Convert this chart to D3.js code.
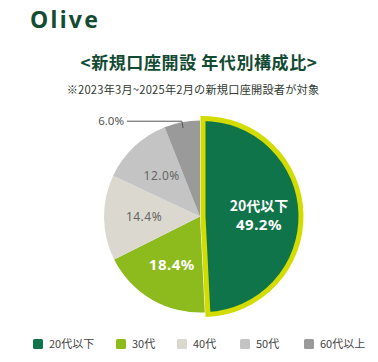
<!DOCTYPE html>
<html>
<head>
<meta charset="utf-8">
<script src="https://cdn.jsdelivr.net/npm/d3@7"></script>
<style>
  body { margin: 0; background: #fff; }
  svg { display: block; }
</style>
</head>
<body>
<div id="chart"></div>
<script>
var w = 378
var h = 362

// data
var categories = ['20代以下', '30代', '40代', '50代', '60代以上']
var shares = [49.2, 18.4, 14.4, 12.0, 6.0]
var colors = ['#10744b', '#8dbb1d', '#dbd8cf', '#c4c4c4', '#9a9a9a']

var jp = '"Noto Sans CJK JP", "Noto Sans", sans-serif'
var num = '"Noto Sans", "Noto Sans CJK JP", sans-serif'

var svg = d3.select('#chart').append('svg')
  .attr('width', w)
  .attr('height', h)

// logo
svg.append('text').text('Olive')
  .attr('x', 30)
  .attr('y', 28)
  .attr('fill', '#144c33')
  .style('font-family', '"Noto Sans", sans-serif')
  .style('font-weight', 700)
  .style('font-size', '23px')
  .style('letter-spacing', '2.3px')

// titles
svg.append('text').text('<新規口座開設 年代別構成比>')
  .attr('x', 199)
  .attr('y', 69)
  .attr('text-anchor', 'middle')
  .attr('fill', '#134a32')
  .style('font-family', jp)
  .style('font-weight', 700)
  .style('font-size', '17px')
  .style('letter-spacing', '0.6px')

svg.append('text').text('※2023年3月~2025年2月の新規口座開設者が対象')
  .attr('x', 193)
  .attr('y', 94)
  .attr('text-anchor', 'middle')
  .attr('fill', '#2f3a33')
  .style('font-family', jp)
  .style('font-size', '11.2px')
  .style('letter-spacing', '0.2px')

// pie
var cx = 200
var cy = 216.5
var r = 96

var pie = d3.pie().sort(null).value(function (d) { return d.v })
var arcs = pie(shares.map(function (v, i) { return { v: v, name: categories[i], color: colors[i] } }))

var arc = d3.arc().innerRadius(0).outerRadius(r)
var arcBig = d3.arc().innerRadius(0).outerRadius(r + 2)
var labelArc = d3.arc().innerRadius(56).outerRadius(56)

var g = svg.append('g').attr('transform', 'translate(' + cx + ',' + cy + ')')

arcs.forEach(function (d, i) {
  if (i === 0) return
  g.append('path')
    .attr('d', arc(d))
    .attr('fill', d.data.color)
})

// highlighted slice, pulled out a little
var first = arcs[0]
var off = 3
g.append('path')
  .attr('d', arcBig(first))
  .attr('transform', 'translate(' + off + ',0)')
  .attr('fill', first.data.color)
  .attr('stroke', '#d3dc00')
  .attr('stroke-width', 5)
  .attr('stroke-linejoin', 'miter')

// labels
var c0 = labelArc.centroid(first)
g.append('text').text(first.data.name)
  .attr('x', c0[0] + off)
  .attr('y', c0[1] - 4)
  .attr('text-anchor', 'middle')
  .attr('fill', '#fff')
  .style('font-family', jp)
  .style('font-weight', 700)
  .style('font-size', '14px')
g.append('text').text(first.data.v.toFixed(1) + '%')
  .attr('x', c0[0] + off)
  .attr('y', c0[1] + 15)
  .attr('text-anchor', 'middle')
  .attr('fill', '#fff')
  .style('font-family', num)
  .style('font-weight', 700)
  .style('font-size', '15px')
  .style('letter-spacing', '0.5px')

var innerStyle = [
  { fill: '#fff', weight: 700, size: 15 },
  { fill: '#666', weight: 400, size: 12 },
  { fill: '#666', weight: 400, size: 12 }
]
arcs.slice(1, 4).forEach(function (d, i) {
  var c = labelArc.centroid(d)
  var s = innerStyle[i]
  g.append('text').text(d.data.v.toFixed(1) + '%')
    .attr('x', c[0])
    .attr('y', c[1])
    .attr('dy', '0.35em')
    .attr('text-anchor', 'middle')
    .attr('fill', s.fill)
    .style('font-family', num)
    .style('font-weight', s.weight)
    .style('font-size', s.size + 'px')
    .style('letter-spacing', '0.5px')
})

// outside label for the smallest slice
var last = arcs[4]
var p1 = d3.arc().innerRadius(90).outerRadius(90).centroid(last)
var p2 = d3.arc().innerRadius(97).outerRadius(97).centroid(last)
var lx = 127 - cx
g.append('polyline')
  .attr('points', [p1, p2, [lx, p2[1]]].map(function (p) { return p.join(',') }).join(' '))
  .attr('fill', 'none')
  .attr('stroke', '#555')
  .attr('stroke-width', 1)
g.append('text').text(last.data.v.toFixed(1) + '%')
  .attr('x', lx - 3)
  .attr('y', p2[1])
  .attr('dy', '0.35em')
  .attr('text-anchor', 'end')
  .attr('fill', '#555')
  .style('font-family', num)
  .style('font-size', '11.5px')

// legend
var legendX = [33, 116, 177, 240, 304]
var legend = svg.append('g')
categories.forEach(function (name, i) {
  legend.append('rect')
    .attr('x', legendX[i])
    .attr('y', 339)
    .attr('width', 10)
    .attr('height', 10)
    .attr('rx', 1.5)
    .attr('fill', colors[i])
  legend.append('text').text(name)
    .attr('x', legendX[i] + 16)
    .attr('y', 344)
    .attr('dy', '0.36em')
    .attr('fill', '#444')
    .style('font-family', jp)
    .style('font-size', '11px')
})
</script>
</body>
</html>
